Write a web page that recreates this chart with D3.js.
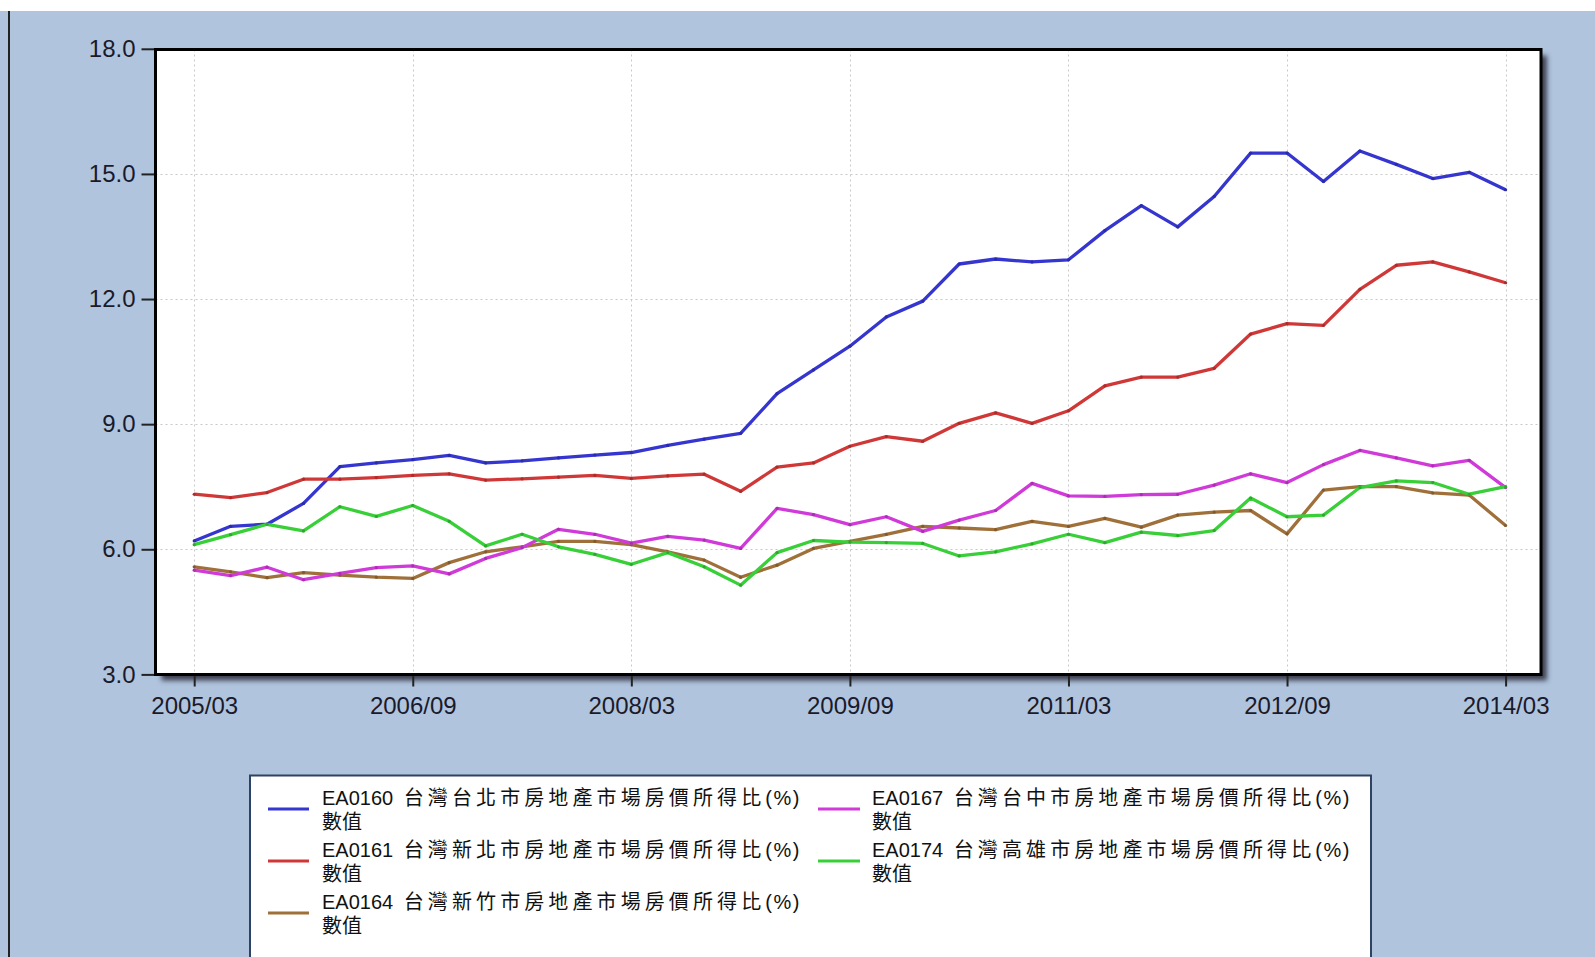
<!DOCTYPE html>
<html>
<head>
<meta charset="utf-8">
<script src="https://cdn.jsdelivr.net/npm/d3@7"></script>
<style>
  html, body { margin: 0; padding: 0; background: #fff; }
  svg { display: block; }
</style>
</head>
<body>
<svg id="chart" width="1595" height="957"></svg>
<script>
// quarterly categories
var quarters = [
  '2005/03','2005/06','2005/09','2005/12','2006/03','2006/06','2006/09','2006/12',
  '2007/03','2007/06','2007/09','2007/12','2008/03','2008/06','2008/09','2008/12',
  '2009/03','2009/06','2009/09','2009/12','2010/03','2010/06','2010/09','2010/12',
  '2011/03','2011/06','2011/09','2011/12','2012/03','2012/06','2012/09','2012/12',
  '2013/03','2013/06','2013/09','2013/12','2014/03'
];
var xTickLabels = ['2005/03','2006/09','2008/03','2009/09','2011/03','2012/09','2014/03'];
var yTicks = [3, 6, 9, 12, 15, 18];

var taipei = [6.20,6.55,6.60,7.10,7.98,8.07,8.15,8.25,8.07,8.12,8.19,8.26,8.32,
  8.49,8.64,8.78,9.73,10.30,10.87,11.57,11.95,12.84,12.96,12.89,12.94,13.64,
  14.24,13.73,14.46,15.50,15.50,14.82,15.55,15.23,14.89,15.04,14.62];
var newTaipei = [7.32,7.24,7.36,7.68,7.68,7.72,7.77,7.81,7.66,7.69,7.73,7.77,7.70,
  7.76,7.80,7.39,7.97,8.07,8.47,8.70,8.59,9.02,9.27,9.02,9.32,9.92,
  10.13,10.13,10.34,11.16,11.41,11.37,12.23,12.81,12.89,12.65,12.39];
var hsinchu = [5.58,5.46,5.32,5.44,5.38,5.33,5.30,5.68,5.94,6.06,6.19,6.19,6.11,
  5.94,5.74,5.33,5.62,6.02,6.19,6.36,6.55,6.51,6.47,6.67,6.55,6.74,
  6.53,6.82,6.89,6.93,6.37,7.42,7.50,7.50,7.35,7.30,6.57];
var taichung = [5.50,5.37,5.57,5.27,5.42,5.56,5.60,5.41,5.78,6.04,6.48,6.36,6.15,
  6.31,6.22,6.02,6.98,6.83,6.59,6.78,6.43,6.70,6.93,7.58,7.28,7.27,
  7.31,7.32,7.54,7.81,7.60,8.03,8.37,8.19,8.00,8.13,7.48];
var kaohsiung = [6.11,6.35,6.60,6.44,7.02,6.79,7.05,6.67,6.08,6.36,6.06,5.88,5.64,
  5.92,5.58,5.14,5.92,6.21,6.17,6.16,6.14,5.84,5.94,6.13,6.36,6.16,
  6.41,6.33,6.45,7.23,6.78,6.82,7.48,7.64,7.60,7.32,7.50];

var seriesCodes = ['EA0160','EA0161','EA0164','EA0167','EA0174'];
var seriesNames = ['台灣台北市房地產市場房價所得比','台灣新北市房地產市場房價所得比',
  '台灣新竹市房地產市場房價所得比','台灣台中市房地產市場房價所得比','台灣高雄市房地產市場房價所得比'];
var seriesColors = ['#3535cf','#d03838','#a0703a','#d03ad8','#38cf38'];
var seriesValues = [taipei, newTaipei, hsinchu, taichung, kaohsiung];

var svg = d3.select('#chart');

// background panel
svg.append('rect').attr('x', 0).attr('y', 11).attr('width', 1595).attr('height', 946).attr('fill', '#b0c4de');
svg.append('line').attr('x1', 9).attr('x2', 9).attr('y1', 11).attr('y2', 957)
  .attr('stroke', '#222').attr('stroke-width', 2);

var plot = {left: 155.5, top: 49.5, right: 1541, bottom: 674.5};

var x = d3.scalePoint().domain(quarters).range([194.2, 1505.6]);
var y = d3.scaleLinear().domain([3, 18]).range([674.4, 48.8]);

var defs = svg.append('defs');
var blur = defs.append('filter').attr('id', 'shadow').attr('x', '-5%').attr('y', '-5%')
  .attr('width', '110%').attr('height', '110%');
blur.append('feGaussianBlur').attr('stdDeviation', 2.5);

// drop shadow + plot area
svg.append('rect')
  .attr('x', plot.left + 6).attr('y', plot.top + 6)
  .attr('width', plot.right - plot.left).attr('height', plot.bottom - plot.top)
  .attr('fill', '#3c4150').attr('filter', 'url(#shadow)');
svg.append('rect')
  .attr('x', plot.left).attr('y', plot.top)
  .attr('width', plot.right - plot.left).attr('height', plot.bottom - plot.top)
  .attr('fill', '#fff');

// grid
var grid = svg.append('g').attr('stroke', '#c8c8c8').attr('stroke-width', 1).attr('stroke-dasharray', '2,3');
grid.selectAll('line.gx').data(xTickLabels).enter().append('line')
  .attr('x1', function (d) { return Math.round(x(d)) + 0.5; })
  .attr('x2', function (d) { return Math.round(x(d)) + 0.5; })
  .attr('y1', plot.top).attr('y2', plot.bottom);
grid.selectAll('line.gy').data(yTicks.slice(1, -1)).enter().append('line')
  .attr('y1', function (d) { return Math.round(y(d)) + 0.5; })
  .attr('y2', function (d) { return Math.round(y(d)) + 0.5; })
  .attr('x1', plot.left).attr('x2', plot.right);

// axes
var yAxis = d3.axisLeft(y).tickValues(yTicks).tickFormat(d3.format('.1f')).tickSize(14).tickPadding(6);
var gy = svg.append('g').attr('transform', 'translate(' + plot.left + ',0)').call(yAxis);
var xAxis = d3.axisBottom(x).tickValues(xTickLabels).tickSize(12).tickPadding(6);
var gx = svg.append('g').attr('transform', 'translate(0,' + plot.bottom + ')').call(xAxis);
[gx, gy].forEach(function (g) {
  g.select('.domain').remove();
  g.selectAll('.tick line').attr('stroke', '#222').attr('stroke-width', 2);
  g.selectAll('.tick text').attr('fill', '#1a1a2a')
    .style('font-family', '"Liberation Sans", Arial, sans-serif').style('font-size', '24px');
});
gx.selectAll('.tick text').attr('dy', '0.9em');

// lines
var lineGen = d3.line()
  .x(function (d, i) { return x(quarters[i]); })
  .y(function (d) { return y(d); });
var lines = svg.append('g');
seriesValues.forEach(function (vals, k) {
  lines.append('path').datum(vals)
    .attr('d', lineGen)
    .attr('fill', 'none')
    .attr('stroke', seriesColors[k])
    .attr('stroke-width', 3.3)
    .attr('stroke-linejoin', 'round');
  lines.selectAll(null).data(vals).enter().append('circle')
    .attr('cx', function (d, i) { return x(quarters[i]); })
    .attr('cy', function (d) { return y(d); })
    .attr('r', 1.6)
    .attr('fill', d3.color(seriesColors[k]).darker(0.6));
});

// frame
svg.append('rect')
  .attr('x', plot.left).attr('y', plot.top)
  .attr('width', plot.right - plot.left).attr('height', plot.bottom - plot.top)
  .attr('fill', 'none').attr('stroke', '#000').attr('stroke-width', 3);

// legend
var legend = svg.append('g');
legend.append('rect').attr('x', 250).attr('y', 775.5).attr('width', 1121).attr('height', 200)
  .attr('fill', '#fff').attr('stroke', '#2e4261').attr('stroke-width', 2);

var legendPos = [[0, 0], [0, 1], [0, 2], [1, 0], [1, 1]];
var colX = [[268, 309, 322], [818, 860, 872]];
seriesCodes.forEach(function (code, k) {
  var c = colX[legendPos[k][0]];
  var top = legendPos[k][1] * 52;
  legend.append('line')
    .attr('x1', c[0]).attr('x2', c[1])
    .attr('y1', 809 + top).attr('y2', 809 + top)
    .attr('stroke', seriesColors[k]).attr('stroke-width', 3);
  var t = legend.append('text')
    .attr('x', c[2]).attr('y', 805 + top)
    .attr('fill', '#111')
    .style('font-family', '"Liberation Sans", "Noto Sans CJK TC", sans-serif')
    .style('font-size', '20px');
  t.append('tspan').text(code + ' ');
  t.append('tspan').style('font-family', '"Noto Sans CJK TC", sans-serif')
    .style('letter-spacing', '4.1px').attr('dx', 5).text(seriesNames[k]);
  t.append('tspan').style('letter-spacing', '1.5px').text('(%)');
  legend.append('text')
    .attr('x', c[2]).attr('y', 829 + top)
    .attr('fill', '#111')
    .style('font-family', '"Noto Sans CJK TC", sans-serif')
    .style('font-size', '20px')
    .text('數值');
});
</script>
</body>
</html>
